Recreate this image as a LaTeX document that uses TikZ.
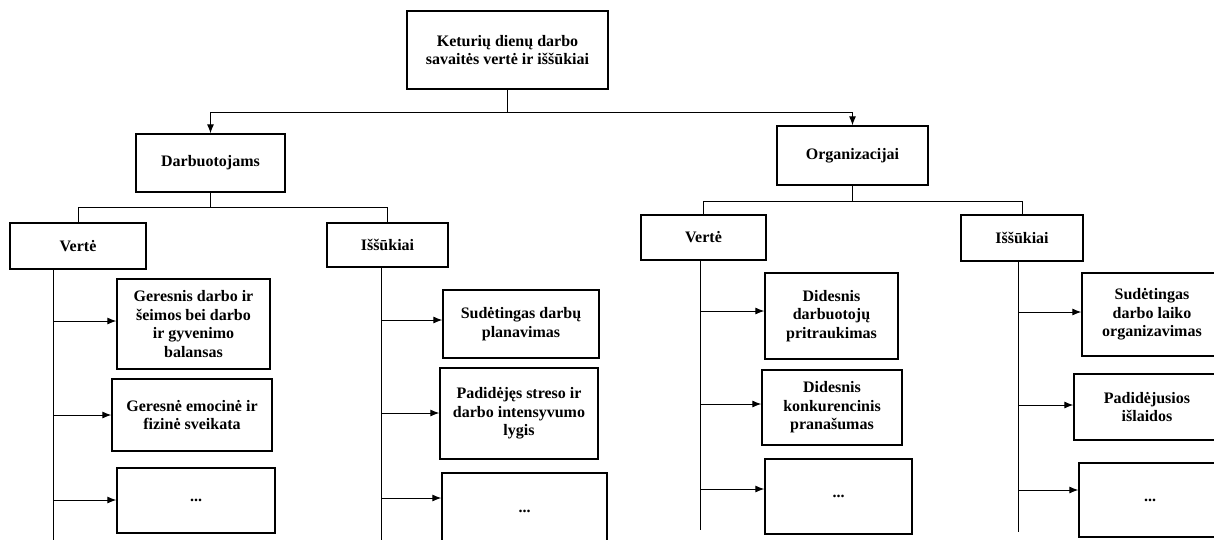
\documentclass[tikz,border=0pt]{standalone}
\usepackage{fontspec}
\setmainfont{Liberation Serif}
\usepackage{tikz}
\usetikzlibrary{arrows.meta}

\tikzset{
  box/.style={draw, line width=1.3pt, align=center, inner sep=2pt,
    font=\bfseries\fontsize{16}{18.6}\selectfont},
  link/.style={line width=1pt},
  arr/.style={link, -{Latex[length=9pt,width=7pt]}}
}

\begin{document}
\begin{tikzpicture}[x=1pt, y=-1pt]
 \useasboundingbox (0,0) rectangle (1214,539);
 \clip (0,0) rectangle (1214,539);
 % top and the two sides
 \node[box, minimum width=201pt, minimum height=78pt] (top) at (507.5,50) {Keturių dienų darbo\\savaitės vertė ir iššūkiai};
 \node[box, minimum width=149pt, minimum height=58pt] (darb) at (210.5,163) {Darbuotojams};
 \node[box, minimum width=151pt, minimum height=59pt] (org) at (852.5,155.5) {Organizacijai};
 \coordinate (tj) at (507.5,112);
 \draw[arr] (top.south) -- (tj) -| (darb.north);
 \draw[arr] (tj) -| (org.north);
 % value / challenge heads
 \node[box, minimum width=136pt, minimum height=46pt] (v1) at (78,246) {Vertė};
 \node[box, minimum width=121pt, minimum height=44pt] (i1) at (387.5,245) {Iššūkiai};
 \node[box, minimum width=125pt, minimum height=45pt] (v2) at (703.5,237.5) {Vertė};
 \node[box, minimum width=122pt, minimum height=46pt] (i2) at (1022,238) {Iššūkiai};
 \coordinate (dj) at (210.5,207);
 \coordinate (oj) at (852.5,201);
 \draw[link] (darb.south) -- (dj) -| (v1.north);
 \draw[link] (dj) -| (i1.north);
 \draw[link] (org.south) -- (oj) -| (v2.north);
 \draw[link] (oj) -| (i2.north);
 % Darbuotojams: vertė
 \node[box, minimum width=153pt, minimum height=90pt] (g1) at (193.5,324) {Geresnis darbo ir\\šeimos bei darbo\\ir gyvenimo\\balansas};
 \node[box, minimum width=160pt, minimum height=72pt] (g2) at (192,415) {Geresnė emocinė ir\\fizinė sveikata};
 \node[box, minimum width=158pt, minimum height=65pt] (g3) at (196,500.5) {...};
 % Darbuotojams: iššūkiai
 \node[box, minimum width=156pt, minimum height=68pt] (s1) at (521,324) {Sudėtingas darbų\\planavimas};
 \node[box, minimum width=158pt, minimum height=91pt] (s2) at (519,413.5) {Padidėjęs streso ir\\darbo intensyvumo\\lygis};
 \node[box, minimum width=165pt, minimum height=77pt] (s3) at (524.5,511.5) {...};
 % Organizacijai: vertė
 \node[box, minimum width=133pt, minimum height=86pt] (d1) at (831.5,316) {Didesnis\\darbuotojų\\pritraukimas};
 \node[box, minimum width=140pt, minimum height=75pt] (d2) at (832,407.5) {Didesnis\\konkurencinis\\pranašumas};
 \node[box, minimum width=147pt, minimum height=75pt] (d3) at (838.5,496.5) {...};
 % Organizacijai: iššūkiai
 \node[box, minimum width=140pt, minimum height=83pt] (o1) at (1152,314.5) {Sudėtingas\\darbo laiko\\organizavimas};
 \node[box, minimum width=146pt, minimum height=66pt] (o2) at (1147,407) {Padidėjusios\\išlaidos};
 \node[box, minimum width=142pt, minimum height=74pt] (o3) at (1150,500) {...};
 % spines and arrows
 \coordinate (v1e) at (53,545);
 \coordinate (i1e) at (381,545);
 \coordinate (v2e) at (700,530);
 \coordinate (i2e) at (1018,532);
 \draw[link] (v1.south -| v1e) -- (v1e);
 \draw[link] (i1.south -| i1e) -- (i1e);
 \draw[link] (v2.south -| v2e) -- (v2e);
 \draw[link] (i2.south -| i2e) -- (i2e);
 \foreach \b/\y in {g1/321, g2/415, g3/500} \draw[arr] (v1e |- 0,\y) -- (\b.west |- 0,\y);
 \foreach \b/\y in {s1/320, s2/413, s3/498} \draw[arr] (i1e |- 0,\y) -- (\b.west |- 0,\y);
 \foreach \b/\y in {d1/311, d2/404, d3/489} \draw[arr] (v2e |- 0,\y) -- (\b.west |- 0,\y);
 \foreach \b/\y in {o1/312, o2/405, o3/490} \draw[arr] (i2e |- 0,\y) -- (\b.west |- 0,\y);
\end{tikzpicture}
\end{document}
